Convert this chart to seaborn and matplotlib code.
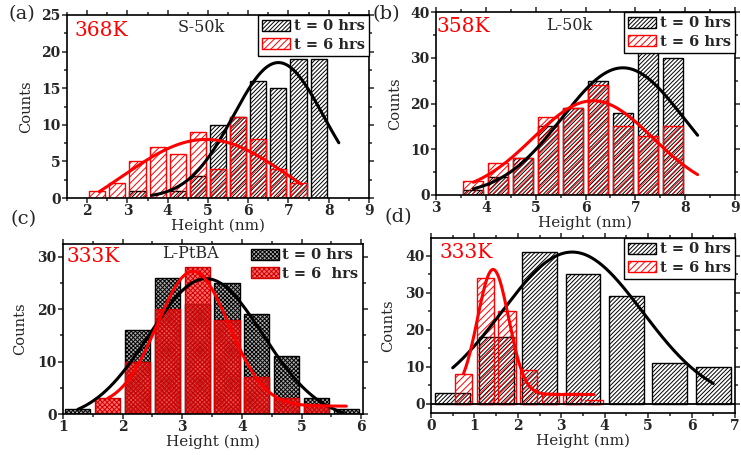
import numpy as np
import pandas as pd
import seaborn as sns
import matplotlib.pyplot as plt
from matplotlib.patches import Patch
from matplotlib.ticker import MultipleLocator

sns.set_style("ticks")
plt.rcParams["font.family"] = ["DejaVu Serif"]
plt.rcParams["hatch.linewidth"] = 0.7
plt.rcParams["axes.linewidth"] = 1.2

# ---------------- data ----------------
# panel (a) 368K S-50k
a_black_x = [3.25, 4.25, 4.75, 5.25, 5.75, 6.25, 6.75, 7.25, 7.75]
a_black_y = [1, 1, 3, 10, 11, 16, 15, 19, 19]
a_red_x = [2.25, 2.75, 3.25, 3.75, 4.25, 4.75, 5.25, 5.75, 6.25, 6.75, 7.25]
a_red_y = [1, 2, 5, 7, 6, 9, 4, 11, 8, 4, 2]
# gaussian fit: amplitude, centre, width, offset, x start, x end
a_black_fit = [18.5, 6.75, 1.12, 0.0, 3.6, 8.25]
a_red_fit = [13.0, 4.95, 2.1, -5.0, 2.3, 7.3]

# panel (b) 358K L-50k
b_black_x = [3.75, 4.25, 4.75, 5.25, 5.75, 6.25, 6.75, 7.25, 7.75]
b_black_y = [1, 4, 8, 15, 19, 25, 18, 32, 30]
b_red_x = [3.75, 4.25, 4.75, 5.25, 5.75, 6.25, 6.75, 7.25, 7.75]
b_red_y = [3, 7, 8, 17, 19, 24, 15, 13, 15]
b_black_fit = [27.8, 6.75, 1.22, 0.0, 3.75, 8.25]
b_red_fit = [20.6, 6.15, 1.2, 0.0, 3.75, 8.25]

# panel (c) 333K L-PtBA
c_black_x = [1.25, 2.25, 2.75, 3.25, 3.75, 4.25, 4.75, 5.25, 5.75]
c_black_y = [1, 16, 26, 21, 25, 19, 11, 3, 1]
c_red_x = [1.75, 2.25, 2.75, 3.25, 3.75, 4.25, 4.75, 5.25]
c_red_y = [3, 10, 20, 28, 18, 7, 3, 2]
c_black_fit = [27.0, 3.4, 0.95, -1.2, 1.25, 5.7]
c_red_fit = [25.7, 3.18, 0.6, 1.5, 1.75, 5.75]

# panel (d) 333K
d_black_x = [0.5, 1.5, 2.5, 3.5, 4.5, 5.5, 6.5]
d_black_y = [3, 18, 41, 35, 29, 11, 10]
d_red_x = [0.75, 1.25, 1.75, 2.25, 2.75, 3.25, 3.75]
d_red_y = [8, 34, 25, 9, 3, 3, 1]
d_black_fit = [41.0, 3.25, 1.62, 0.0, 0.5, 6.5]
d_red_fit = [33.8, 1.43, 0.36, 2.5, 0.75, 3.75]

legend_labels = ["t = 0 hrs", "t = 6 hrs"]
legend_labels_c = ["t = 0 hrs", "t = 6  hrs"]

W, H = 741, 455
fig = plt.figure(figsize=(W / 100, H / 100), dpi=100)


def axes_px(left, top, right, bottom):
    return fig.add_axes([left / W, 1 - bottom / H, (right - left) / W, (bottom - top) / H])


def draw_bars(ax, xs, ys, width, **style):
    n0 = len(ax.patches)
    df = pd.DataFrame({"x": xs, "y": ys})
    sns.barplot(data=df, x="x", y="y", native_scale=True, width=width,
                errorbar=None, ax=ax, color="white")
    for p in ax.patches[n0:]:
        p.set(**style)


def draw_fit(ax, fit, color):
    amp, xc, w, y0, x0, x1 = fit
    xx = np.linspace(x0, x1, 200)
    yy = y0 + amp * np.exp(-(xx - xc) ** 2 / (2 * w ** 2))
    sns.lineplot(x=xx, y=yy, ax=ax, color=color, linewidth=2.2, zorder=5)


def style_axes(ax, xlim, ylim, xmaj, ymaj, ylab_x):
    ax.set_xlim(*xlim)
    ax.set_ylim(*ylim)
    ax.xaxis.set_major_locator(MultipleLocator(xmaj))
    ax.xaxis.set_minor_locator(MultipleLocator(xmaj / 2))
    ax.yaxis.set_major_locator(MultipleLocator(ymaj))
    ax.yaxis.set_minor_locator(MultipleLocator(ymaj / 2))
    ax.tick_params(which="both", direction="out", top=True, right=True, width=1.1)
    ax.tick_params(which="major", length=3.5, labelsize=10, pad=1.0)
    ax.tick_params(which="minor", length=2)
    for lbl in ax.get_xticklabels() + ax.get_yticklabels():
        lbl.set_fontweight("bold")
    for s in ax.spines.values():
        s.set_visible(True)
        s.set_linewidth(1.2)
        s.set_color("black")
    ax.set_ylabel("Counts", fontsize=10.5)
    ax.set_xlabel("Height (nm)", fontsize=11, labelpad=0.0)
    ax.yaxis.set_label_coords(ylab_x, 0.5)


def add_legend(ax, black_style, red_style, labels, frame=True):
    handles = [Patch(**black_style), Patch(**red_style)]
    leg = ax.legend(handles, labels, loc="upper right", bbox_to_anchor=(1.0, 1.0),
                    borderaxespad=0.0, frameon=frame, fancybox=False,
                    prop={"weight": "bold", "size": 10.5}, handlelength=1.9,
                    handleheight=0.75, handletextpad=0.25, labelspacing=0.3,
                    borderpad=0.3)
    if frame:
        leg.get_frame().set_edgecolor("black")
        leg.get_frame().set_linewidth(1.0)
        leg.get_frame().set_alpha(1)
    leg.set_zorder(10)


def text_px(x, y, s, **kw):
    fig.text(x / W, 1 - y / H, s, va="center", ha="left", **kw)


black_hatch = dict(facecolor="white", edgecolor="black", hatch="////////", linewidth=1.0)
red_hatch = dict(facecolor="none", edgecolor="red", hatch="/////", linewidth=1.0)
black_cross = dict(facecolor="#b0b0b0", edgecolor="black", hatch="xxxxxxxx", linewidth=1.0)
red_cross = dict(facecolor=(1.0, 0.2, 0.2, 0.72), edgecolor="#d00000", hatch="xxxxxxx", linewidth=1.0)

# ---------------- (a) ----------------
ax_a = axes_px(67, 15, 369, 198)
draw_bars(ax_a, a_black_x, a_black_y, 0.8, **black_hatch)
draw_bars(ax_a, a_red_x, a_red_y, 0.8, **red_hatch)
draw_fit(ax_a, a_black_fit, "black")
draw_fit(ax_a, a_red_fit, "red")
style_axes(ax_a, (1.5, 9), (0, 25), 1, 5, -0.113)
add_legend(ax_a, black_hatch, red_hatch, legend_labels)

# ---------------- (b) ----------------
ax_b = axes_px(436, 12, 735, 195)
draw_bars(ax_b, b_black_x, b_black_y, 0.8, **black_hatch)
draw_bars(ax_b, b_red_x, b_red_y, 0.8, **red_hatch)
draw_fit(ax_b, b_black_fit, "black")
draw_fit(ax_b, b_red_fit, "red")
style_axes(ax_b, (3, 9), (0, 40), 1, 10, -0.114)
add_legend(ax_b, black_hatch, red_hatch, legend_labels)

# ---------------- (c) ----------------
ax_c = axes_px(63, 244, 363, 414)
draw_bars(ax_c, c_black_x, c_black_y, 0.84, **black_cross)
draw_bars(ax_c, c_red_x, c_red_y, 0.84, **red_cross)
draw_fit(ax_c, c_black_fit, "black")
draw_fit(ax_c, c_red_fit, "red")
style_axes(ax_c, (1, 6.03), (0, 32.4), 1, 10, -0.12)
add_legend(ax_c, black_cross, red_cross, legend_labels_c, frame=False)

# ---------------- (d) ----------------
ax_d = axes_px(431, 238, 735, 413)
draw_bars(ax_d, d_black_x, d_black_y, 0.8, **black_hatch)
draw_bars(ax_d, d_red_x, d_red_y, 0.8, **red_hatch)
ax_d.axhline(0, color="black", linewidth=1.3, zorder=4)
draw_fit(ax_d, d_black_fit, "black")
draw_fit(ax_d, d_red_fit, "red")
style_axes(ax_d, (0, 7), (-2.5, 44.8), 1, 10, -0.118)
add_legend(ax_d, black_hatch, red_hatch, legend_labels)

# ---------------- annotations ----------------
text_px(8, 14, "(a)", fontsize=14)
text_px(373, 14, "(b)", fontsize=14)
text_px(10, 219, "(c)", fontsize=14)
text_px(385, 217, "(d)", fontsize=14)

text_px(75, 31, "368K", fontsize=14.5, color="red")
text_px(178, 28, "S-50k", fontsize=11.5)
text_px(437, 26, "358K", fontsize=14.5, color="red")
text_px(546, 25, "L-50k", fontsize=11.5)
text_px(66, 257, "333K", fontsize=14.5, color="red")
text_px(162, 254, "L-PtBA", fontsize=11.5)
text_px(439, 252, "333K", fontsize=14.5, color="red")

fig.savefig("out.png", dpi=100)
